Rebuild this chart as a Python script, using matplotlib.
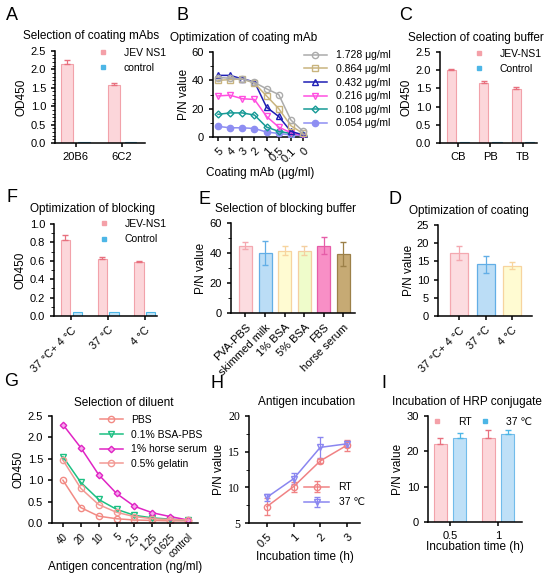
import numpy as np
import matplotlib
matplotlib.use("Agg")
import matplotlib.pyplot as plt
from matplotlib.lines import Line2D

plt.rcParams['font.family'] = ['Liberation Sans', 'DejaVu Sans']
plt.rcParams['axes.linewidth'] = 1.1
plt.rcParams['xtick.major.width'] = 1.1
plt.rcParams['ytick.major.width'] = 1.1
plt.rcParams['xtick.major.size'] = 3
plt.rcParams['ytick.major.size'] = 3
plt.rcParams['ytick.minor.size'] = 2
plt.rcParams['xtick.labelsize'] = 8
plt.rcParams['ytick.labelsize'] = 8

# ---- data ----
a_groups = ['20B6', '6C2']
a_jev = [2.15, 1.57]
a_jev_err = [0.10, 0.07]
a_ctrl = [0.03, 0.03]

b_x = ['5', '4', '3', '2', '1', '0.5', '0.1', '0']
b_labels = ['1.728 μg/ml', '0.864 μg/ml', '0.432 μg/ml', '0.216 μg/ml', '0.108 μg/ml', '0.054 μg/ml']
b_1728 = [42, 41.5, 41, 38.5, 34, 30, 12, 4]
b_0864 = [40, 40.5, 41, 38, 29, 20, 8, 2.5]
b_0432 = [43.5, 43.5, 41, 39, 21, 14.5, 4, 1.5]
b_0216 = [29, 29.5, 27, 26.5, 14.5, 7, 3, 1]
b_0108 = [16, 17, 17, 15.5, 7, 4, 2.5, 1.5]
b_0054 = [7.5, 6.5, 6.5, 6, 3.5, 2.5, 1.5, 1]

c_groups = ['CB', 'PB', 'TB']
c_jev = [2.01, 1.65, 1.48]
c_jev_err = [0.03, 0.04, 0.05]
c_ctrl = [0.02, 0.02, 0.02]

f_groups = ['37 °C+ 4 °C', '37 °C', '4 °C']
f_jev = [0.83, 0.62, 0.59]
f_jev_err = [0.05, 0.02, 0.01]
f_ctrl = [0.04, 0.04, 0.04]

e_groups = ['PVA-PBS', 'skimmed milk', '1% BSA', '5% BSA', 'FBS', 'horse serum']
e_vals = [45, 40, 41.5, 41.5, 45, 39.5]
e_err = [2.5, 8, 3, 3, 5.5, 8]

d_groups = ['37 °C+ 4 °C', '37 °C', '4 °C']
d_vals = [17.3, 14.2, 13.8]
d_err = [1.8, 2.4, 0.9]

g_x = ['40', '20', '10', '5', '2.5', '1.25', '0.625', 'control']
g_pbs = [1.0, 0.36, 0.16, 0.10, 0.07, 0.06, 0.05, 0.05]
g_bsa = [1.55, 0.95, 0.55, 0.32, 0.18, 0.12, 0.09, 0.07]
g_horse = [2.3, 1.76, 1.13, 0.69, 0.39, 0.24, 0.15, 0.07]
g_gel = [1.47, 0.81, 0.43, 0.25, 0.15, 0.10, 0.08, 0.07]

h_x = ['0.5', '1', '2', '3']
h_rt = [7.3, 10.1, 13.7, 15.9]
h_rt_err = [1.2, 0.7, 0.3, 0.8]
h_37 = [8.6, 11.2, 15.6, 16.1]
h_37_err = [0.5, 0.8, 1.5, 0.4]

i_x = ['0.5', '1']
i_rt = [22.2, 23.7]
i_rt_err = [1.7, 2.2]
i_37 = [23.8, 24.9]
i_37_err = [1.3, 1.0]

W, H = 550, 577
fig = plt.figure(figsize=(5.5, 5.77), dpi=100)


def add_ax(x0, y0, x1, y1):
    ax = fig.add_axes([x0 / W, 1 - y1 / H, (x1 - x0) / W, (y1 - y0) / H])
    ax.spines['top'].set_visible(False)
    ax.spines['right'].set_visible(False)
    return ax


def letter(x, y, s):
    fig.text(x / W, 1 - y / H, s, fontsize=13, va='center', ha='left')


PINK_F, PINK_E, PINK_ERR = '#FCD6DA', '#F2A2AA', '#E8707E'
CYAN_F, CYAN_E = '#BFE3F7', '#4DB6E6'


def two_bar(ax, groups, jev, jev_err, ctrl, off, width, labels, anchor):
    x = np.arange(len(groups))
    ax.bar(x - off, jev, width, color=PINK_F, edgecolor=PINK_E, linewidth=0.8)
    ax.errorbar(x - off, jev, yerr=[np.zeros(len(jev)), jev_err], fmt='none',
                ecolor=PINK_ERR, elinewidth=0.9, capsize=2)
    ax.bar(x + off, ctrl, width, color=CYAN_F, edgecolor=CYAN_E, linewidth=0.8)
    ax.set_xticks(x)
    ax.set_xticklabels(groups)
    hs = [Line2D([], [], marker='s', ls='none', ms=2.2, color='#F4A0A8'),
          Line2D([], [], marker='s', ls='none', ms=2.2, color='#4DB6E6')]
    ax.legend(hs, labels, loc='upper left', bbox_to_anchor=anchor, frameon=False,
              fontsize=7.5, handletextpad=1.0, labelspacing=0.5, borderaxespad=0)


# ---- A ----
ax = add_ax(55, 51, 145, 143)
two_bar(ax, a_groups, a_jev, a_jev_err, a_ctrl, 0.18, 0.25, ['JEV NS1', 'control'], (0.37, 1.08))
ax.set_xlim(-0.44, 1.49)
ax.set_ylim(0, 2.5)
ax.set_yticks(np.arange(0, 2.51, 0.5))
ax.set_yticks(np.arange(0, 2.5, 0.1), minor=True)
ax.set_ylabel('OD450', fontsize=8.5, labelpad=2)
ax.set_title('Selection of coating mAbs', fontsize=8.5, pad=9, x=0.4)
letter(6, 16, 'A')

# ---- B ----
ax = add_ax(213, 52, 307, 137)
xb = np.arange(len(b_x))
b_series = [b_1728, b_0864, b_0432, b_0216, b_0108, b_0054]
b_colors = ['#ABABAB', '#C9B47E', '#1E1EB4', '#FF4FE0', '#169A96', '#8E8EF2']
b_markers = ['o', 's', '^', 'v', 'D', 'o']
for i, (ys, c, m, lab) in enumerate(zip(b_series, b_colors, b_markers, b_labels)):
    face = c if i == 5 else 'none'
    ms = 4.5 if m != 'D' else 3.5
    ax.plot(xb, ys, color=c, marker=m, ms=ms, mfc=face, mec=c, lw=1.1, label=lab,
            zorder=10 - i)
ax.set_xlim(-0.41, 7.33)
ax.set_ylim(0, 60)
ax.set_yticks([0, 20, 40, 60])
ax.set_yticks(np.arange(0, 60, 10), minor=True)
ax.set_xticks(xb)
ax.set_xticklabels(b_x, rotation=45, ha='right', rotation_mode='anchor')
ax.set_ylabel('P/N value', fontsize=8.5, labelpad=1)
ax.set_xlabel('Coating mAb (μg/ml)', fontsize=8.5, labelpad=2)
ax.set_title('Optimization of coating mAb', fontsize=8.5, pad=8, x=0.33)
ax.legend(loc='upper left', bbox_to_anchor=(0.92, 1.07), frameon=False, fontsize=7.5,
          handlelength=2.2, handletextpad=0.9, labelspacing=0.35, borderaxespad=0)
letter(176, 16, 'B')

# ---- C ----
ax = add_ax(440, 52, 537, 143)
two_bar(ax, c_groups, c_jev, c_jev_err, c_ctrl, 0.2, 0.28, ['JEV-NS1', 'Control'], (0.25, 1.08))
ax.set_xlim(-0.55, 2.43)
ax.set_ylim(0, 2.5)
ax.set_yticks(np.arange(0, 2.51, 0.5))
ax.set_ylabel('OD450', fontsize=8.5, labelpad=2)
ax.set_title('Selection of coating buffer', fontsize=8.5, pad=8, x=0.37)
letter(399, 16, 'C')

# ---- F ----
ax = add_ax(54, 224, 157, 316)
two_bar(ax, f_groups, f_jev, f_jev_err, f_ctrl, 0.16, 0.25, ['JEV-NS1', 'Control'], (0.34, 1.1))
ax.set_xlim(-0.47, 2.33)
ax.set_ylim(0, 1.0)
ax.set_yticks(np.arange(0, 1.01, 0.2))
ax.set_yticks(np.arange(0, 1.0, 0.1), minor=True)
ax.set_xticklabels(f_groups, rotation=45, ha='right', rotation_mode='anchor')
ax.set_ylabel('OD450', fontsize=8.5, labelpad=2)
ax.set_title('Optimization of blocking', fontsize=8.5, pad=9, x=0.37)
letter(6, 198, 'F')

# ---- E ----
ax = add_ax(231, 223, 355, 313)
e_faces = ['#FCDCE0', '#BBDDF6', '#FFFBD2', '#EFFCCB', '#F88FC6', '#C6AA74']
e_edges = ['#F4A8B0', '#62AEE6', '#F7D49E', '#F4CFA0', '#E65CA8', '#9C8048']
xe = np.arange(len(e_groups))
ax.bar(xe, e_vals, 0.66, color=e_faces, edgecolor=e_edges, linewidth=0.9)
for xi, v, er, c in zip(xe, e_vals, e_err, e_edges):
    ax.errorbar(xi, v, yerr=er, fmt='none', ecolor=c, elinewidth=0.9, capsize=2)
ax.set_xlim(-0.74, 5.59)
ax.set_ylim(0, 60)
ax.set_yticks([0, 20, 40, 60])
ax.set_yticks(np.arange(0, 60, 10), minor=True)
ax.set_xticks(xe)
ax.set_xticklabels(e_groups, rotation=45, ha='right', rotation_mode='anchor')
ax.set_ylabel('P/N value', fontsize=8.5, labelpad=2)
ax.set_title('Selection of blocking buffer', fontsize=8.5, pad=8, x=0.44)
letter(198, 200, 'E')

# ---- D ----
ax = add_ax(438, 225, 532, 316)
xd = np.arange(len(d_groups))
ax.bar(xd, d_vals, 0.68, color=e_faces[:3], edgecolor=e_edges[:3], linewidth=0.9)
for xi, v, er, c in zip(xd, d_vals, d_err, e_edges[:3]):
    ax.errorbar(xi, v, yerr=er, fmt='none', ecolor=c, elinewidth=0.9, capsize=2)
ax.set_xlim(-0.79, 2.75)
ax.set_ylim(0, 25)
ax.set_yticks(np.arange(0, 26, 5))
ax.set_xticks(xd)
ax.set_xticklabels(d_groups, rotation=45, ha='right', rotation_mode='anchor')
ax.set_ylabel('P/N value', fontsize=8.5, labelpad=1)
ax.set_title('Optimization of coating', fontsize=8.5, pad=8, x=0.33)
letter(388, 200, 'D')

# ---- G ----
ax = add_ax(52, 416, 198, 523)
xg = np.arange(len(g_x))
ax.plot(xg, g_pbs, color='#F28A84', marker='o', ms=4.5, mfc='none', lw=1.1, label='PBS')
ax.plot(xg, g_bsa, color='#1DC083', marker='v', ms=4.5, mfc='none', lw=1.1, label='0.1% BSA-PBS')
ax.plot(xg, g_horse, color='#E024C4', marker='D', ms=3.3, mfc='#F6A8EC', lw=1.1, label='1% horse serum')
ax.plot(xg, g_gel, color='#F29A94', marker='o', ms=4.5, mfc='none', lw=1.1, label='0.5% gelatin')
ax.set_xlim(-0.61, 7.56)
ax.set_ylim(0, 2.5)
ax.set_yticks(np.arange(0, 2.51, 0.5))
ax.set_xticks(xg)
ax.set_xticklabels(g_x, rotation=45, ha='right', rotation_mode='anchor', fontsize=7)
ax.set_ylabel('OD450', fontsize=8.5, labelpad=2)
ax.set_xlabel('Antigen concentration (ng/ml)', fontsize=8.5, labelpad=1)
ax.set_title('Selection of diluent', fontsize=8.5, pad=7, x=0.49)
ax.legend(loc='upper left', bbox_to_anchor=(0.3, 1.05), frameon=False, fontsize=7.5,
          handlelength=2.2, handletextpad=0.8, labelspacing=0.45, borderaxespad=0)
letter(4, 382, 'G')

# ---- H ----
ax = add_ax(249, 416, 360, 523)
xh = np.arange(len(h_x))
ax.errorbar(xh, h_rt, yerr=h_rt_err, color='#F08284', marker='o', ms=4.5, mfc='none',
            lw=1.1, elinewidth=0.9, capsize=2, label='RT')
ax.errorbar(xh, h_37, yerr=h_37_err, color='#8A86F0', marker='v', ms=4.5, mfc='none',
            lw=1.1, elinewidth=0.9, capsize=2, label='37 ℃')
ax.set_xlim(-0.67, 3.49)
ax.set_ylim(5, 20)
ax.set_yticks([5, 10, 15, 20])
ax.set_yticks(np.arange(5, 20, 2.5), minor=True)
for t in ax.get_yticklabels():
    t.set_family('Liberation Serif')
    t.set_fontsize(8.5)
ax.set_xticks(xh)
ax.set_xticklabels(h_x, rotation=45, ha='right', rotation_mode='anchor')
ax.set_ylabel('P/N value', fontsize=8.5, labelpad=2)
ax.set_xlabel('Incubation time (h)', fontsize=8.5, labelpad=1)
ax.set_title('Antigen incubation', fontsize=8.5, pad=8, x=0.52)
ax.legend(loc='upper left', bbox_to_anchor=(0.46, 0.42), frameon=False, fontsize=7.5,
          handlelength=2.4, handletextpad=0.9, labelspacing=0.5, borderaxespad=0)
letter(210, 384, 'H')

# ---- I ----
ax = add_ax(428, 416, 522, 522)
xi_ = np.arange(len(i_x))
ax.bar(xi_ - 0.2, i_rt, 0.27, color=PINK_F, edgecolor=PINK_E, linewidth=0.8)
ax.errorbar(xi_ - 0.2, i_rt, yerr=[np.zeros(2), i_rt_err], fmt='none', ecolor=PINK_ERR,
            elinewidth=0.9, capsize=2)
ax.bar(xi_ + 0.2, i_37, 0.27, color='#BFE0F7', edgecolor='#72BCEB', linewidth=0.8)
ax.errorbar(xi_ + 0.2, i_37, yerr=[np.zeros(2), i_37_err], fmt='none', ecolor='#4DB6E6',
            elinewidth=0.9, capsize=2)
ax.set_xlim(-0.46, 1.5)
ax.set_ylim(0, 30)
ax.set_yticks([0, 10, 20, 30])
ax.set_xticks(xi_)
ax.set_xticklabels(i_x)
ax.set_ylabel('P/N value', fontsize=8.5, labelpad=2)
ax.set_xlabel('Incubation time (h)', fontsize=8.5, labelpad=0)
ax.set_title('Incubation of HRP conjugate', fontsize=8.5, pad=8, x=0.41)
hs = [Line2D([], [], marker='s', ls='none', ms=2.2, color='#F4A0A8'),
      Line2D([], [], marker='s', ls='none', ms=2.2, color='#4DB6E6')]
ax.legend(hs, ['RT', '37 ℃'], loc='upper center', bbox_to_anchor=(0.55, 1.03), ncol=2,
          frameon=False, fontsize=7.5, handletextpad=1.0, columnspacing=0.3, borderaxespad=0)
letter(381, 384, 'I')

fig.savefig('out.png', dpi=100)
